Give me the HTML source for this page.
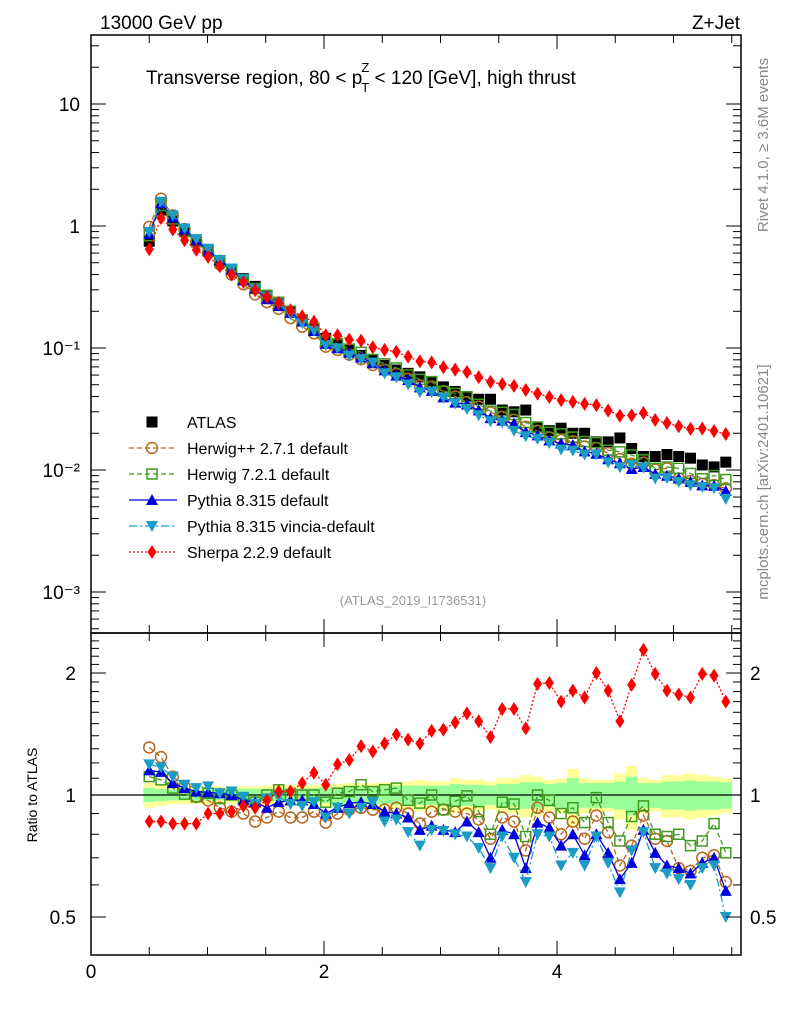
<!DOCTYPE html>
<html><head><meta charset="utf-8"><style>
body{margin:0;background:#fff}
svg{display:block;font-family:"Liberation Sans",sans-serif}
</style></head><body>
<svg id="c" width="786" height="1024" viewBox="0 0 786 1024" xmlns="http://www.w3.org/2000/svg">
<g id="bands"></g>
<g id="marks"></g>
<g id="axes"></g>
<text x="100" y="29" font-size="19">13000 GeV pp</text>
<text x="740" y="29" font-size="19" text-anchor="end">Z+Jet</text>
<text x="146" y="84" font-size="19">Transverse region, 80 &lt; p<tspan font-size="13" dx="-1" dy="-12">Z</tspan><tspan font-size="13" dx="-8" dy="20">T</tspan><tspan dy="-8"> &lt; 120 [GeV], high thrust</tspan></text>
<text x="413" y="605" font-size="13" fill="#999" text-anchor="middle">(ATLAS_2019_I1736531)</text>
<text transform="translate(768,145) rotate(-90)" font-size="15" fill="#888" text-anchor="middle">Rivet 4.1.0, ≥ 3.6M events</text>
<text transform="translate(768,482) rotate(-90)" font-size="15" fill="#888" text-anchor="middle">mcplots.cern.ch [arXiv:2401.10621]</text>
<text transform="translate(37,795) rotate(-90)" font-size="14" text-anchor="middle">Ratio to ATLAS</text>
<g id="legend"></g>
</svg>
<script>
const xs=[0.500,0.601,0.702,0.803,0.904,1.005,1.106,1.207,1.308,1.409,1.510,1.611,1.712,1.813,1.914,2.015,2.116,2.217,2.318,2.419,2.520,2.621,2.722,2.823,2.924,3.025,3.126,3.227,3.328,3.429,3.530,3.631,3.732,3.833,3.934,4.035,4.136,4.237,4.338,4.439,4.540,4.641,4.742,4.843,4.944,5.045,5.146,5.247,5.348,5.449];
const atlas=[0.75,1.35,1.1,0.9,0.75,0.62,0.52,0.44,0.37,0.32,0.27,0.23,0.2,0.17,0.145,0.12,0.107,0.096,0.087,0.079,0.072,0.066,0.062,0.058,0.053,0.048,0.044,0.040,0.038,0.038,0.031,0.030,0.031,0.0225,0.021,0.022,0.020,0.020,0.017,0.017,0.0183,0.015,0.0129,0.0129,0.0134,0.0129,0.0125,0.011,0.0106,0.0116];
const rHerwigpp=[1.31,1.24,1.11,1.05,0.99,0.97,0.93,0.91,0.90,0.86,0.88,0.91,0.88,0.88,0.91,0.855,0.90,0.92,0.93,0.92,0.92,0.93,0.90,0.85,0.91,0.92,0.91,0.90,0.87,0.78,0.88,0.86,0.73,0.93,0.88,0.80,0.86,0.78,0.89,0.81,0.67,0.75,0.89,0.78,0.77,0.66,0.65,0.70,0.71,0.61];
const rHerwig7=[1.11,1.09,1.04,1.005,0.99,1.01,0.98,1.0,0.98,0.96,1.0,1.03,1.0,1.0,1.0,0.96,1.01,1.02,1.06,1.02,1.03,1.04,0.97,0.955,1.0,0.92,0.965,0.995,0.91,0.80,0.96,0.95,0.79,1.0,0.97,0.90,0.93,0.855,0.985,0.855,0.77,0.885,0.94,0.80,0.79,0.80,0.75,0.77,0.85,0.72];
const rPythia=[1.15,1.14,1.07,1.04,1.02,1.015,1.01,1.0,0.97,0.96,0.93,0.96,0.97,0.97,0.95,0.90,0.93,0.955,0.96,0.95,0.91,0.90,0.88,0.82,0.84,0.82,0.81,0.86,0.81,0.70,0.82,0.80,0.66,0.855,0.83,0.75,0.80,0.71,0.80,0.72,0.62,0.68,0.82,0.72,0.67,0.66,0.64,0.68,0.70,0.58];
const rVincia=[1.19,1.17,1.11,1.06,1.04,1.05,1.01,1.02,0.99,0.95,0.98,0.99,0.95,0.94,0.96,0.88,0.93,0.90,0.93,0.96,0.86,0.87,0.81,0.75,0.82,0.815,0.80,0.79,0.74,0.66,0.79,0.70,0.61,0.80,0.79,0.67,0.72,0.67,0.79,0.68,0.575,0.73,0.81,0.66,0.64,0.62,0.60,0.66,0.67,0.50];
const rSherpa=[0.86,0.86,0.85,0.85,0.85,0.90,0.90,0.91,0.94,0.93,0.97,1.02,1.02,1.07,1.135,1.06,1.19,1.22,1.32,1.28,1.34,1.41,1.37,1.34,1.44,1.45,1.51,1.59,1.52,1.39,1.63,1.63,1.46,1.88,1.89,1.70,1.81,1.74,2.0,1.81,1.52,1.87,2.28,1.99,1.81,1.77,1.74,1.99,1.97,1.70];
const errTotal=[0.07,0.06,0.05,0.05,0.05,0.05,0.05,0.05,0.05,0.05,0.055,0.055,0.06,0.06,0.06,0.065,0.065,0.07,0.07,0.07,0.075,0.075,0.08,0.09,0.08,0.08,0.1,0.09,0.09,0.08,0.1,0.1,0.12,0.11,0.09,0.1,0.16,0.1,0.09,0.09,0.13,0.18,0.1,0.09,0.12,0.12,0.13,0.12,0.11,0.1];
const errStat=[0.04,0.035,0.03,0.03,0.03,0.03,0.03,0.03,0.035,0.035,0.035,0.035,0.04,0.04,0.04,0.045,0.045,0.045,0.05,0.05,0.05,0.055,0.055,0.055,0.055,0.055,0.065,0.06,0.06,0.055,0.065,0.065,0.075,0.075,0.065,0.07,0.1,0.07,0.07,0.07,0.08,0.11,0.07,0.07,0.08,0.08,0.085,0.08,0.08,0.075];
const yTickLabelsMain=["10","1","10\u207B\u00B9","10\u207B\u00B2","10\u207B\u00B3"];
const xTickLabels=["0","2","4"];

const NS="http://www.w3.org/2000/svg";
const L=91,R=741,T=35,MB=633,B=955;
const X=v=>L+v*116.5;
const YM=v=>226-122*Math.log10(v);
const YR=r=>795-405.3*Math.log10(r);
function mk(tag,at,par){const e=document.createElementNS(NS,tag);for(const k in at)e.setAttribute(k,at[k]);par.appendChild(e);return e;}
const axes=document.getElementById('axes'),marks=document.getElementById('marks'),bands=document.getElementById('bands'),leg=document.getElementById('legend');

xs.forEach((x,i)=>{
  const x0=X(x-0.0505),w=116.5*0.101+0.3;
  const a=mk('rect',{x:x0,y:YR(1+errTotal[i]),width:w,height:YR(1-errTotal[i])-YR(1+errTotal[i]),fill:'#ffff99'},bands);
  
  
  const b=mk('rect',{x:x0,y:YR(1+errStat[i]),width:w,height:YR(1-errStat[i])-YR(1+errStat[i]),fill:'#99ff99'},bands);
  
  
});
const one=mk('line',{x1:L,x2:R,y1:YR(1),y2:YR(1),stroke:'#000','stroke-width':1.3},bands);



function marker(type,cx,cy,col,g){
  let e;
  if(type==='sq') e=mk('rect',{x:cx-5.5,y:cy-5.5,width:11,height:11,fill:'#000'},g);
  else if(type==='osq') e=mk('rect',{x:cx-5,y:cy-5,width:10,height:10,fill:'none',stroke:col,'stroke-width':1.5},g);
  else if(type==='oc') e=mk('circle',{cx:cx,cy:cy,r:5.5,fill:'none',stroke:col,'stroke-width':1.5},g);
  else if(type==='tu') e=mk('polygon',{points:`${cx},${cy-6} ${cx-6},${cy+5} ${cx+6},${cy+5}`,fill:col},g);
  else if(type==='td') e=mk('polygon',{points:`${cx},${cy+6} ${cx-6},${cy-5} ${cx+6},${cy-5}`,fill:col},g);
  else e=mk('polygon',{points:`${cx},${cy-7} ${cx-4.5},${cy} ${cx},${cy+7} ${cx+4.5},${cy}`,fill:col},g);
  return e;
}
const series=[
 {name:'herwigpp',r:rHerwigpp,col:'#b5651d',m:'oc',dash:'5,3',label:'Herwig++ 2.7.1 default'},
 {name:'herwig7',r:rHerwig7,col:'#3f9a1f',m:'osq',dash:'5,3',label:'Herwig 7.2.1 default'},
 {name:'pythia',r:rPythia,col:'#0000dd',m:'tu',dash:'',label:'Pythia 8.315 default'},
 {name:'vincia',r:rVincia,col:'#1a9cc4',m:'td',dash:'8,3,2,3',label:'Pythia 8.315 vincia-default'},
 {name:'sherpa',r:rSherpa,col:'#ff0000',m:'di',dash:'2,2',label:'Sherpa 2.2.9 default'}
];
const ga=mk('g',{},marks);


xs.forEach((x,i)=>{const p=marker('sq',X(x),YM(atlas[i]),'#000',ga);});
series.forEach(s=>{
  const g=mk('g',{},marks);
  
  
  const pm=xs.map((x,i)=>X(x)+','+YM(atlas[i]*s.r[i])).join(' ');
  const pr=xs.map((x,i)=>X(x)+','+YR(s.r[i])).join(' ');
  const l1=mk('polyline',{points:pm,fill:'none',stroke:s.col,'stroke-width':1.3,'stroke-dasharray':s.dash},g);
  
  
  const l2=mk('polyline',{points:pr,fill:'none',stroke:s.col,'stroke-width':1.3,'stroke-dasharray':s.dash},g);
  
  
  xs.forEach((x,i)=>{
    const a=marker(s.m,X(x),YM(atlas[i]*s.r[i]),s.col,g);
    
    
    const b=marker(s.m,X(x),YR(s.r[i]),s.col,g);
    
    
  });
});

[[T,MB],[MB,B]].forEach(([a,b])=>{const f=mk('rect',{x:L,y:a,width:R-L,height:b-a,fill:'none',stroke:'#000','stroke-width':1.5},axes);});
function tick(x1,y1,x2,y2){mk('line',{x1,y1,x2,y2,stroke:'#000','stroke-width':1},axes);}
for(let d=-4;d<=1;d++){for(let k=1;k<10;k++){const v=k*Math.pow(10,d);const y=YM(v);if(y<T||y>MB)continue;const len=k===1?15:8;tick(L,y,L+len,y);tick(R,y,R-len,y);}}
yTickLabelsMain.forEach((t,i)=>{const e=mk('text',{x:80,y:YM(Math.pow(10,1-i))+7,'font-size':19,'text-anchor':'end'},axes);e.textContent=t;});
[0.5,0.6,0.7,0.8,0.9,1,2].forEach(r=>{const y=YR(r);const len=(r===0.5||r===1||r===2)?15:8;tick(L,y,L+len,y);tick(R,y,R-len,y);});
for(let r=1.1;r<2.5;r+=0.1){if(Math.abs(r-2)<0.01)continue;const y=YR(r);tick(L,y,L+8,y);tick(R,y,R-8,y);}
[["2",2],["1",1],["0.5",0.5]].forEach(([t,r])=>{
 const a=mk('text',{x:76,y:YR(r)+7,'font-size':19,'text-anchor':'end'},axes);a.textContent=t;
 const b=mk('text',{x:750,y:YR(r)+7,'font-size':19},axes);b.textContent=t;
});
for(let v=0;v<=5.5;v+=0.5){const x=X(v);const len=(v%2===0)?14:8;[T,MB].forEach(y=>tick(x,y,x,y+len));[MB,B].forEach(y=>tick(x,y,x,y-len));}
xTickLabels.forEach((t,i)=>{const e=mk('text',{x:X(i*2),y:978,'font-size':19,'text-anchor':'middle'},axes);e.textContent=t;});

const rows=[{m:'sq',col:'#000',dash:null,label:'ATLAS',name:'atlas'}].concat(series);
rows.forEach((s,i)=>{
  const y=422+i*26;
  const g=mk('g',{},leg);
  
  
  if(s.dash!==null) mk('line',{x1:129,x2:177,y1:y,y2:y,stroke:s.col,'stroke-width':1.3,'stroke-dasharray':s.dash},g);
  marker(s.m,152,y,s.col,g);
  const t=mk('text',{x:187,y:y+6,'font-size':16},g);t.textContent=s.label;
});
</script>
</body></html>
